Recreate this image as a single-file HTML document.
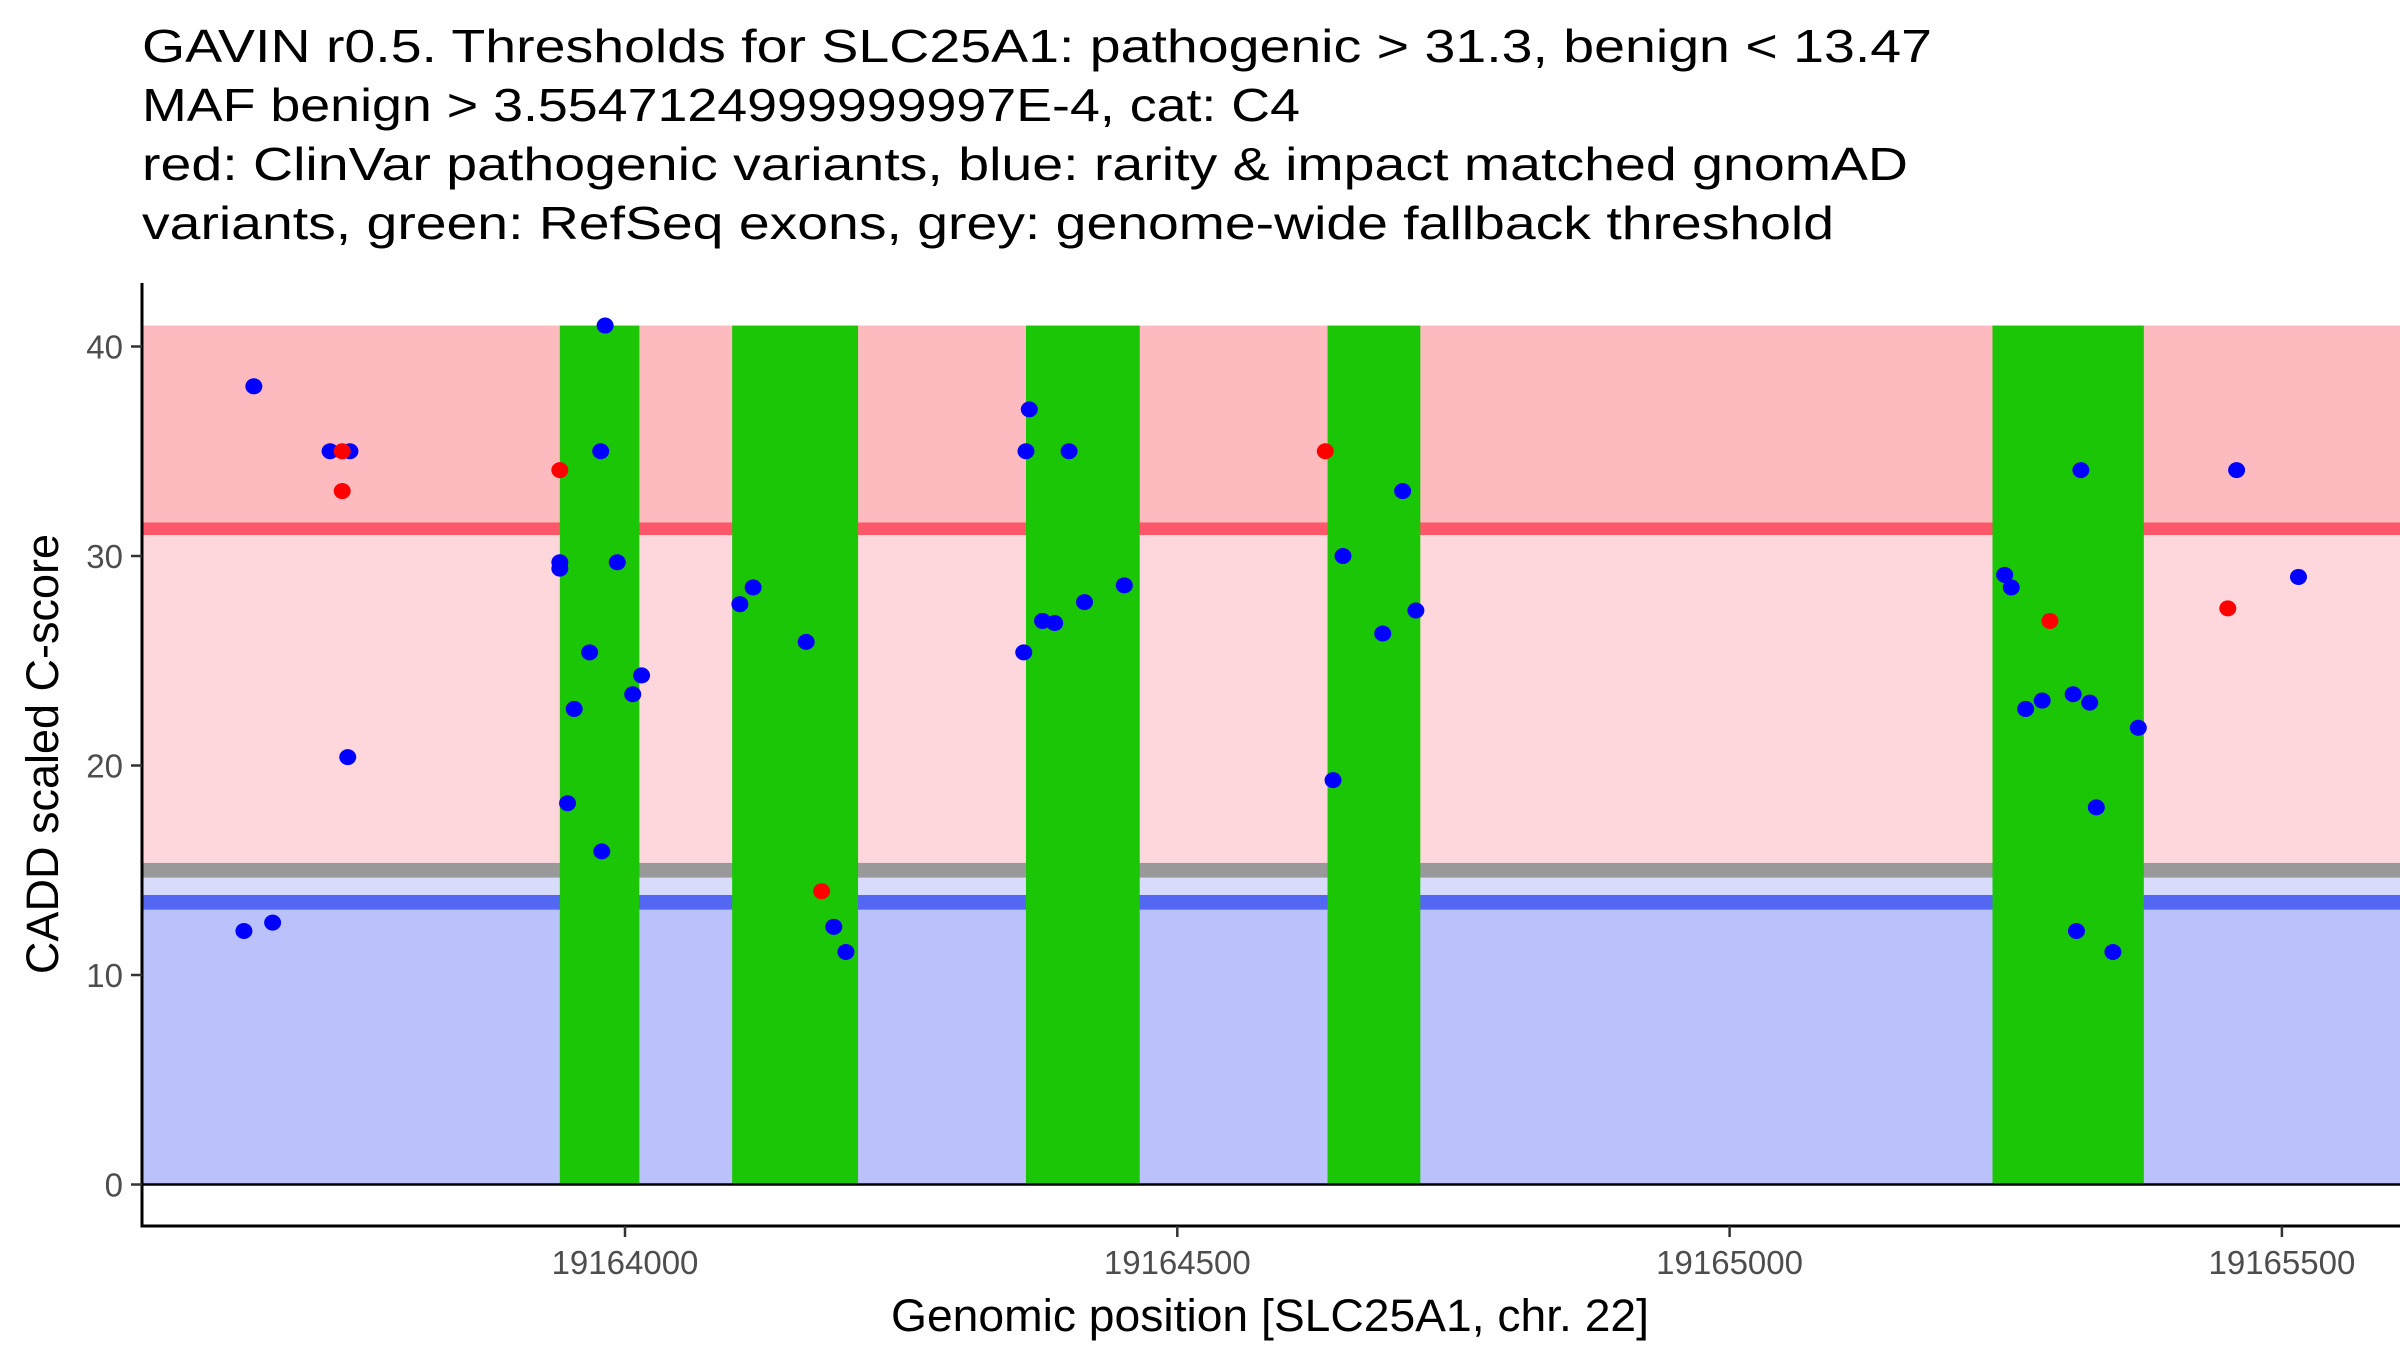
<!DOCTYPE html>
<html><head><meta charset="utf-8"><style>
html,body{margin:0;padding:0;background:#fff;}
svg{display:block;font-family:"Liberation Sans",Arial,sans-serif;}
</style></head><body>
<svg id="chart" width="2400" height="1350" viewBox="0 0 2400 1350" xmlns="http://www.w3.org/2000/svg">
<g font-size="46" fill="#000">
<text x="142" y="62" textLength="1790" lengthAdjust="spacingAndGlyphs">GAVIN r0.5. Thresholds for SLC25A1: pathogenic &gt; 31.3, benign &lt; 13.47</text>
<text x="142" y="121" textLength="1158" lengthAdjust="spacingAndGlyphs">MAF benign &gt; 3.5547124999999997E-4, cat: C4</text>
<text x="142" y="180" textLength="1766" lengthAdjust="spacingAndGlyphs">red: ClinVar pathogenic variants, blue: rarity &amp; impact matched gnomAD</text>
<text x="142" y="239" textLength="1692" lengthAdjust="spacingAndGlyphs">variants, green: RefSeq exons, grey: genome-wide fallback threshold</text>
</g>
<g id="bands"></g>
<g id="exons"></g>
<g id="points"></g>
<g id="axes"></g>
<text x="1270" y="1331" font-size="45" text-anchor="middle" fill="#000" textLength="758" lengthAdjust="spacingAndGlyphs">Genomic position [SLC25A1, chr. 22]</text>
<text transform="translate(58,754) rotate(-90)" font-size="45" text-anchor="middle" fill="#000">CADD scaled C-score</text>
</svg>
<script>
const xTicks = [19164000, 19164500, 19165000, 19165500];
const yTicks = [0, 10, 20, 30, 40];
const pathThreshold = 31.3;
const benignThreshold = 13.47;
const fallbackThreshold = 15.0;
const bandTop = 41;
const exonStarts = [19163941, 19164097, 19164363, 19164636, 19165238];
const exonEnds = [19164013, 19164211, 19164466, 19164720, 19165375];
const blueX = [19163655,19163681,19163664,19163733,19163751,19163749,19163982,19163978,19163941,19163941,19163993,19163968,19163954,19163948,19163979,19164007,19164015,19164104,19164116,19164164,19164189,19164200,19164366,19164363,19164402,19164361,19164378,19164389,19164416,19164452,19164650,19164641,19164686,19164704,19164716,19165249,19165255,19165268,19165283,19165311,19165326,19165318,19165332,19165314,19165347,19165370,19165459,19165515];
const blueY = [12.1,12.5,38.1,35.0,35.0,20.4,41.0,35.0,29.7,29.4,29.7,25.4,22.7,18.2,15.9,23.4,24.3,27.7,28.5,25.9,12.3,11.1,37.0,35.0,35.0,25.4,26.9,26.8,27.8,28.6,30.0,19.3,26.3,33.1,27.4,29.1,28.5,22.7,23.1,23.4,23.0,34.1,18.0,12.1,11.1,21.8,34.1,29.0];
const redX = [19163744,19163744,19163941,19164178,19164634,19165290,19165451];
const redY = [35.0,33.1,34.1,14.0,35.0,26.9,27.5];

const NS = "http://www.w3.org/2000/svg";
const L = 142, R = 2400, T = 283, B = 1226;
const x0 = 19164000, xpx0 = 625, xScale = 1.1046;
function sx(v){ return xpx0 + (v - x0) * xScale; }
function sy(v){ return 1184.5 - v * 20.95; }
function mk(tag, attrs, parent){
  const e = document.createElementNS(NS, tag);
  for (const k in attrs) e.setAttribute(k, attrs[k]);
  parent.appendChild(e); return e;
}
const bands = document.getElementById('bands');
function band(name, y1, y2, fill){
  const r = mk('rect', {x:L, width:R-L, y:sy(y2), height:sy(y1)-sy(y2), fill:fill}, bands);
  
  
}
band('pathogenic-region', pathThreshold, bandTop, '#fdbbc0');
band('uncertain-region', fallbackThreshold, pathThreshold, '#fdd7db');
band('gap-region', benignThreshold, fallbackThreshold, '#d8dcfa');
band('benign-region', 0, benignThreshold, '#bbc1fa');
band('pathogenic-threshold-line', pathThreshold-0.3, pathThreshold+0.3, '#fd5869');
band('fallback-threshold-line', fallbackThreshold-0.35, fallbackThreshold+0.35, '#999999');
band('benign-threshold-line', benignThreshold-0.35, benignThreshold+0.35, '#5467f2');

const exG = document.getElementById('exons');
for (let i = 0; i < exonStarts.length; i++){
  const r = mk('rect', {x:sx(exonStarts[i]), width:sx(exonEnds[i])-sx(exonStarts[i]), y:sy(bandTop), height:sy(0)-sy(bandTop), fill:'#1bc606'}, exG);
  
  
}
const zl = mk('line', {x1:L, x2:R, y1:sy(0), y2:sy(0), stroke:'#000', 'stroke-width':2.5}, exG);



const pG = document.getElementById('points');
for (let i = 0; i < blueX.length; i++){
  const c = mk('ellipse', {cx:sx(blueX[i]), cy:sy(blueY[i]), rx:8.5, ry:8, fill:'#0000ff'}, pG);
  
  
}
for (let i = 0; i < redX.length; i++){
  const c = mk('ellipse', {cx:sx(redX[i]), cy:sy(redY[i]), rx:8.5, ry:8, fill:'#ff0000'}, pG);
  
  
}

const aG = document.getElementById('axes');
const ya = mk('line', {x1:L, x2:L, y1:T, y2:B+1.5, stroke:'#000', 'stroke-width':3}, aG);


const xa = mk('line', {x1:L-1.5, x2:R, y1:B, y2:B, stroke:'#000', 'stroke-width':3}, aG);


yTicks.forEach(v => {
  const t = mk('line', {x1:L-11, x2:L, y1:sy(v), y2:sy(v), stroke:'#333', 'stroke-width':2.5}, aG);
  
  
  const lb = mk('text', {x:L-19, y:sy(v)+12, 'font-size':33, 'text-anchor':'end', fill:'#4d4d4d'}, aG);
  lb.textContent = v;
  
  
});
xTicks.forEach(v => {
  const t = mk('line', {x1:sx(v), x2:sx(v), y1:B, y2:B+11, stroke:'#333', 'stroke-width':2.5}, aG);
  
  
  const lb = mk('text', {x:sx(v), y:B+48, 'font-size':33, 'text-anchor':'middle', fill:'#4d4d4d'}, aG);
  lb.textContent = v;
  
  
});
</script>
</body></html>
